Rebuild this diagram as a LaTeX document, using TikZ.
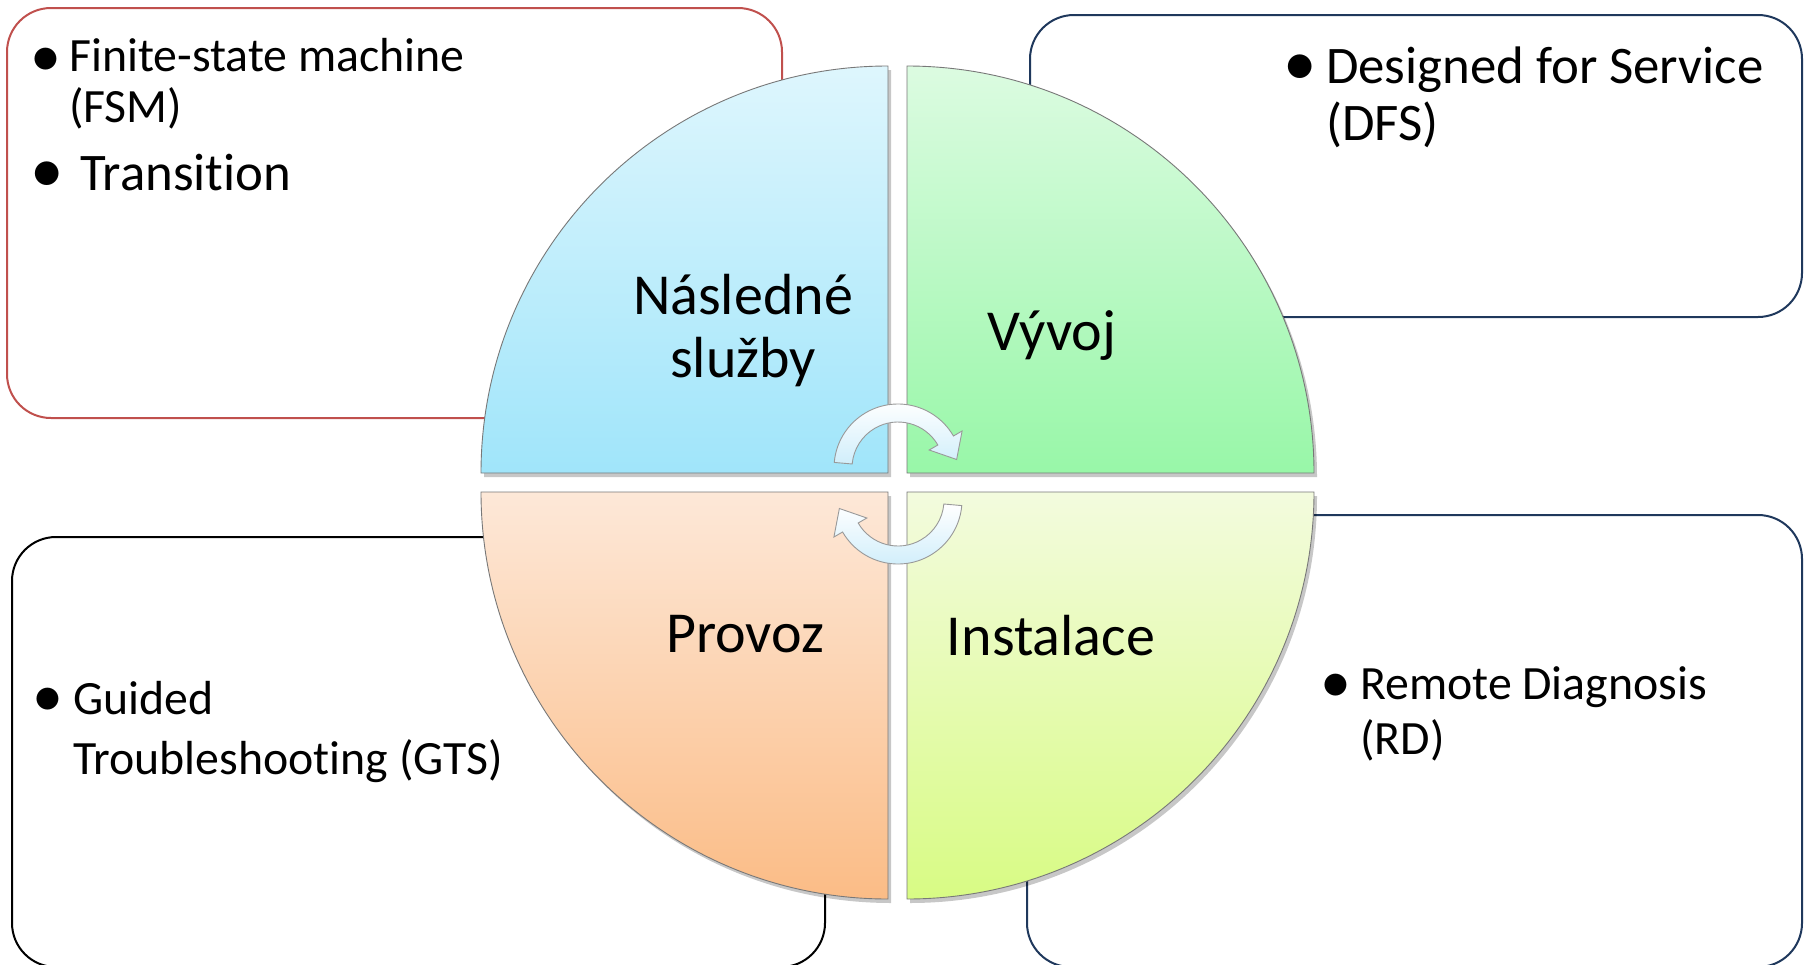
\documentclass[tikz,border=0pt]{standalone}
\usepackage{fontspec}
\setmainfont{Carlito}[Ligatures={NoCommon}]
\usetikzlibrary{calc}
\definecolor{boxred}{RGB}{192,80,77}
\definecolor{boxnavy}{RGB}{31,56,92}
\definecolor{blueTop}{RGB}{222,246,253}
\definecolor{blueBot}{RGB}{160,229,250}
\definecolor{greenTop}{RGB}{220,251,225}
\definecolor{greenBot}{RGB}{152,247,168}
\definecolor{orangeTop}{RGB}{253,232,216}
\definecolor{orangeBot}{RGB}{251,188,134}
\definecolor{limeTop}{RGB}{243,251,222}
\definecolor{limeBot}{RGB}{216,251,132}
\definecolor{arrowBlue}{RGB}{208,238,251}
\definecolor{quadline}{RGB}{120,120,120}
\tikzset{
  infobox/.style={line width=2pt, rounded corners=44pt, fill=white},
  quad/.style={draw=quadline, line width=0.9pt},
  qshadow/.style={fill=black, opacity=0.22},
  cycarrow/.style={draw=gray!80, line width=0.9pt, top color=white, bottom color=arrowBlue},
  lbl/.style={inner sep=0pt, font=\fontsize{58}{64}\selectfont, anchor=base},
  txtS/.style={inner sep=0pt, font=\fontsize{47.8}{56}\selectfont, anchor=base west},
  txtL/.style={inner sep=0pt, font=\fontsize{52.8}{60}\selectfont, anchor=base west},
  bulS/.style={inner sep=0pt, font=\fontsize{62}{62}\selectfont, anchor=center},
  bulL/.style={inner sep=0pt, font=\fontsize{67}{67}\selectfont, anchor=center},
}
\begin{document}
\begin{tikzpicture}[x=1pt,y=-1pt]
\useasboundingbox (0,0) rectangle (1806,964);
\clip (0,0) rectangle (1806,964);

% side boxes
\draw[infobox, draw=boxred] (7,8) rectangle (782,418);
\draw[infobox, draw=boxnavy] (1030,15) rectangle (1802,317);
\draw[infobox, draw=black] (12,537) rectangle (825,967);
\draw[infobox, draw=boxnavy] (1027,515) rectangle (1802,967);

% shadows of quadrants
\fill[qshadow] (891,477) -- (484,477) arc[start angle=180,end angle=270,radius=407] -- cycle;
\fill[qshadow] (910,477) -- (910,70) arc[start angle=270,end angle=360,radius=407] -- cycle;
\fill[qshadow] (891,496) -- (484,496) arc[start angle=180,end angle=90,radius=407] -- cycle;
\fill[qshadow] (910,496) -- (1317,496) arc[start angle=0,end angle=90,radius=407] -- cycle;

% quadrants
\path[quad, top color=blueTop, bottom color=blueBot]
  (888,473) -- (481,473) arc[start angle=180,end angle=270,radius=407] -- cycle;
\path[quad, top color=greenTop, bottom color=greenBot]
  (907,473) -- (907,66) arc[start angle=270,end angle=360,radius=407] -- cycle;
\path[quad, top color=orangeTop, bottom color=orangeBot]
  (888,492) -- (481,492) arc[start angle=180,end angle=90,radius=407] -- cycle;
\path[quad, top color=limeTop, bottom color=limeBot]
  (907,492) -- (1314,492) arc[start angle=0,end angle=90,radius=407] -- cycle;

% circular arrows
\coordinate (U) at (898,468);
\coordinate (L) at (898,500);
\path[cycarrow] ($(U)+(185:64)$) arc[start angle=185,end angle=330,radius=64]
  -- ($(U)+(330:74)$) -- ($(U)+(330:55)+(11,19)$) -- ($(U)+(330:36)$)
  -- ($(U)+(330:46)$) arc[start angle=330,end angle=185,radius=46] -- cycle;
\path[cycarrow] ($(L)+(5:64)$) arc[start angle=5,end angle=150,radius=64]
  -- ($(L)+(150:74)$) -- ($(L)+(150:55)+(-11,-19)$) -- ($(L)+(150:36)$)
  -- ($(L)+(150:46)$) arc[start angle=150,end angle=5,radius=46] -- cycle;

% quadrant labels
\node[lbl] (nas1) at (743,314) {Následné};
\node[lbl] (nas2) at (743,377) {služby};
\node[lbl] (vyv) at (1052,350) {Vývoj};
\node[lbl] (prov) at (745,652) {Provoz};
\node[lbl] (inst) at (1051,655) {Instalace};

% top-left box text
\node[bulS] (b1) at (46,62) {•};
\node[txtS] (t1a) at (69,71) {Finite-state machine};
\node[txtS] (t1b) at (69,122) {(FSM)};
\node[bulL] (b2) at (47,177) {•};
\node[txtL] (t2) at (80,190) {Transition};

% top-right box text
\node[bulL] (b3) at (1300,70) {•};
\node[txtL] (t3a) at (1326,83) {Designed for Service};
\node[txtL] (t3b) at (1326,140) {(DFS)};

% bottom-left box text
\node[bulS] (b4) at (48,702) {•};
\node[txtS] (t4a) at (73,714) {Guided};
\node[txtS] (t4b) at (73,774) {Troubleshooting (GTS)};

% bottom-right box text
\node[bulS] (b5) at (1336,688) {•};
\node[txtS] (t5a) at (1360,699) {Remote Diagnosis};
\node[txtS] (t5b) at (1360,754) {(RD)};
\end{tikzpicture}
\end{document}
